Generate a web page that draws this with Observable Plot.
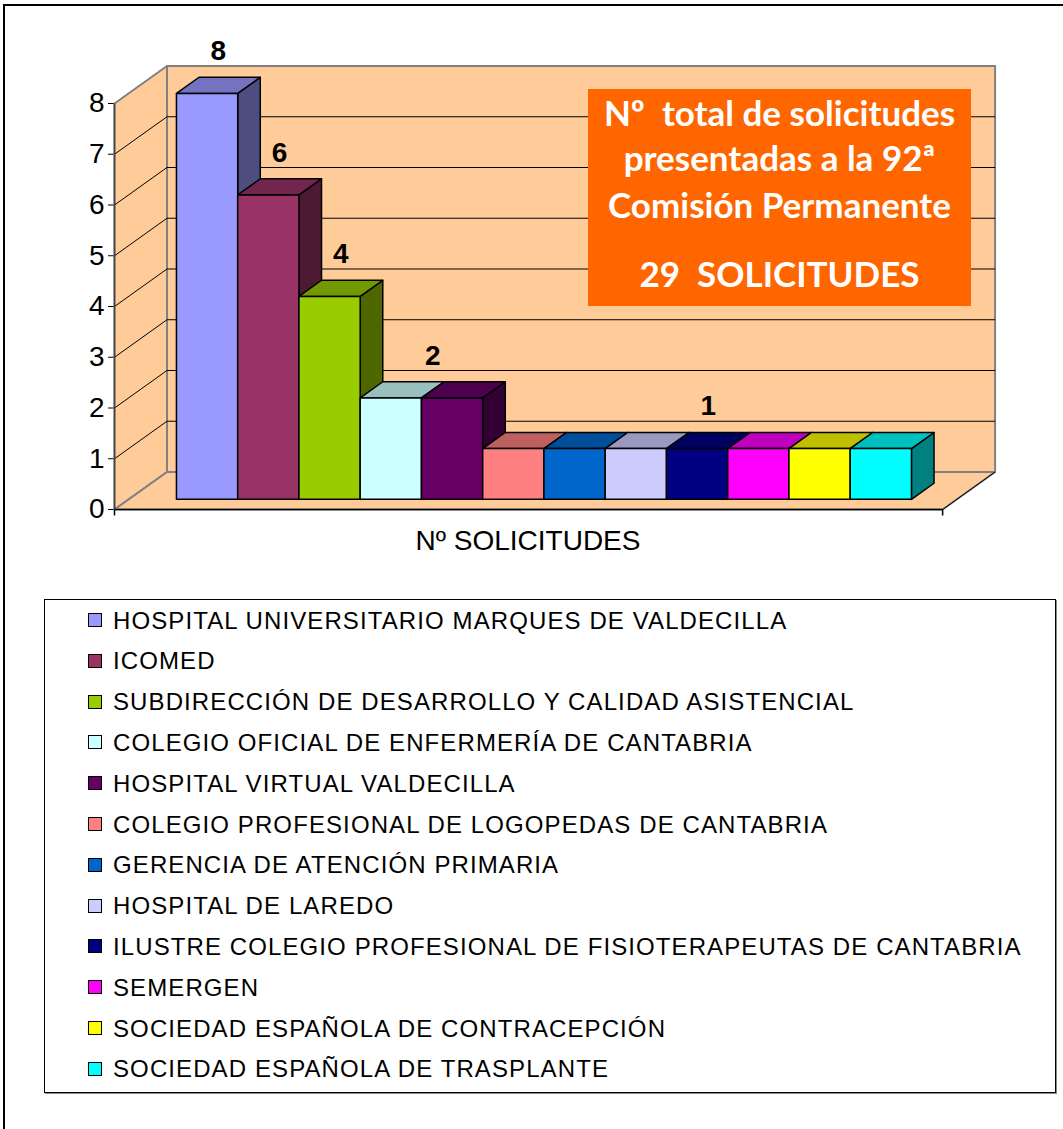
<!DOCTYPE html>
<html><head><meta charset="utf-8">
<script src="https://cdn.jsdelivr.net/npm/d3@7"></script>
<script src="https://cdn.jsdelivr.net/npm/@observablehq/plot@0.6"></script>
<style>
body{margin:0;background:#fff;font-family:"Liberation Sans",Arial,sans-serif;}
#page{position:relative;width:1063px;height:1129px;overflow:hidden;background:#fff;}
#frame{position:absolute;left:3px;top:4px;width:1080px;height:1150px;border:2px solid #000;box-sizing:border-box;}
#chart{position:absolute;left:0;top:0;}
#xlabel{position:absolute;left:0;width:1056px;top:527px;text-align:center;font-size:28px;line-height:28px;color:#000;}
#box{position:absolute;left:588px;top:89px;width:383px;height:217px;background:#FF6600;}
.bl{position:absolute;left:0;width:100%;text-align:center;color:#fff;font-family:Lato,"Open Sans",sans-serif;font-weight:700;font-size:35px;line-height:35px;white-space:pre;}
#legend{position:absolute;left:44px;top:599px;width:1012px;height:494px;border:1px solid #000;box-sizing:border-box;box-shadow:1px 1px 0 #888;}
.sw{position:absolute;left:43px;width:14px;height:14px;border:1px solid #000;box-sizing:border-box;}
.lt{position:absolute;left:68px;font-size:24px;line-height:24px;letter-spacing:1.1px;white-space:nowrap;color:#000;}
</style>
</head><body>
<div id="page">
  <div id="frame"></div>
  <div id="chart"></div>
  <div id="xlabel"></div>
  <div id="box"></div>
  <div id="legend"></div>
</div>
<script>
// ---- data ----
const series = [
  "HOSPITAL UNIVERSITARIO MARQUES DE VALDECILLA",
  "ICOMED",
  "SUBDIRECCIÓN DE DESARROLLO Y CALIDAD ASISTENCIAL",
  "COLEGIO OFICIAL DE ENFERMERÍA DE CANTABRIA",
  "HOSPITAL VIRTUAL VALDECILLA",
  "COLEGIO PROFESIONAL DE LOGOPEDAS DE CANTABRIA",
  "GERENCIA DE ATENCIÓN PRIMARIA",
  "HOSPITAL DE LAREDO",
  "ILUSTRE COLEGIO PROFESIONAL DE FISIOTERAPEUTAS DE CANTABRIA",
  "SEMERGEN",
  "SOCIEDAD ESPAÑOLA DE CONTRACEPCIÓN",
  "SOCIEDAD ESPAÑOLA DE TRASPLANTE"
];
const values = [8, 6, 4, 2, 2, 1, 1, 1, 1, 1, 1, 1];
const colors = ["#9999FF","#993366","#99CC00","#CCFFFF","#660066","#FF8080",
                "#0066CC","#CCCCFF","#000080","#FF00FF","#FFFF00","#00FFFF"];
const yTicks = [0, 1, 2, 3, 4, 5, 6, 7, 8];
const categoryLabel = "Nº SOLICITUDES";
const boxLines = ["Nº  total de solicitudes", "presentadas a la 92ª", "Comisión Permanente", "29  SOLICITUDES"];

// ---- 3D projection (style constants) ----
const DX = 0.857, DY = 0.739;       // full wall depth, in scale units
const GAP_L = 0.78, GAP_R = 0.74;   // floor margin around bars
const D0 = 0.27, D1 = 0.70;         // bar depth range
const YMAX = d3.max(yTicks);
const W = series.length + GAP_L + GAP_R;
const P = (x, v, d) => ({x: x + d * DX, y: v + d * DY});
const PEACH = "#FFCC99";

function shade(c, k) {
  const r = d3.rgb(c);
  return d3.rgb(r.r * k, r.g * k, r.b * k).formatHex();
}

// walls
const walls = [];
[
  [P(0,0,0), P(0,YMAX,0), P(0,YMAX,1), P(0,0,1)],
  [P(0,0,1), P(0,YMAX,1), P(W,YMAX,1), P(W,0,1)],
  [P(0,0,0), P(W,0,0), P(W,0,1), P(0,0,1)]
].forEach((poly, id) => poly.forEach(p => walls.push({...p, id})));

const grid = yTicks.filter(v => v > 0 && v < YMAX);

// bars
const sides = [], tops = [], fronts = [];
values.forEach((v, i) => {
  const xl = GAP_L + i, xr = xl + 1, c = colors[i];
  [P(xl,0,D0), P(xl,v,D0), P(xr,v,D0), P(xr,0,D0)].forEach(p => fronts.push({...p, id: i, fill: c}));
  [P(xl,v,D0), P(xl,v,D1), P(xr,v,D1), P(xr,v,D0)].forEach(p => tops.push({...p, id: i, fill: shade(c, 0.75)}));
  [P(xr,0,D0), P(xr,v,D0), P(xr,v,D1), P(xr,0,D1)].forEach(p => sides.push({...p, id: i, fill: shade(c, 0.5)}));
});

// one data label per distinct value, at the mean position of the bars having it
const labels = d3.groups(values.map((v, i) => ({v, i})), d => d.v)
  .map(([v, arr]) => ({v, i: d3.mean(arr, d => d.i)}));

const tickShape = {draw(ctx) { ctx.moveTo(0, 0); ctx.lineTo(0, 6); }};

const polyOpts = (extra) => ({x: "x", y: "y", z: "id", curve: "linear-closed", ...extra});

const chart = Plot.plot({
  width: 1063, height: 600,
  marginLeft: 114, marginRight: 68.4, marginTop: 65.5, marginBottom: 91,
  style: {fontFamily: "Liberation Sans, Arial, sans-serif", fontSize: "28px", color: "#000", background: "transparent"},
  x: {domain: [0, W + DX], axis: null},
  y: {domain: [0, YMAX + DY], ticks: YMAX, tickSize: 6, tickPadding: 4, label: null, tickFormat: d => d},
  color: {type: "identity"},
  marks: [
    Plot.line(walls, polyOpts({fill: PEACH, stroke: "#808080", strokeWidth: 2})),
    Plot.link(grid, {x1: 0, y1: d => d, x2: DX, y2: d => d + DY, stroke: "#000", strokeWidth: 1}),
    Plot.link(grid, {x1: DX, y1: d => d + DY, x2: W + DX, y2: d => d + DY, stroke: "#000", strokeWidth: 1}),
    Plot.link([0], {x1: 0, y1: 0, x2: 0, y2: YMAX, stroke: "#404040", strokeWidth: 1.5}),
    Plot.link([0], {x1: 0, y1: 0, x2: W, y2: 0, stroke: "#000", strokeWidth: 1.5}),
    Plot.link([0], {x1: W, y1: 0, x2: W + DX, y2: DY, stroke: "#000", strokeWidth: 1}),
    Plot.dot([0, W], {x: d => d, y: 0, symbol: tickShape, stroke: "#000", fill: "none", strokeWidth: 1.5}),
    Plot.line(sides, polyOpts({fill: "fill", stroke: "#000", strokeWidth: 1.5, strokeLinejoin: "round"})),
    Plot.line(tops, polyOpts({fill: "fill", stroke: "#000", strokeWidth: 1.5, strokeLinejoin: "round"})),
    Plot.line(fronts, polyOpts({fill: "fill", stroke: "#000", strokeWidth: 1.5, strokeLinejoin: "round"})),
    Plot.text(labels, {
      x: d => GAP_L + d.i + 0.5 + ((D0 + D1) / 2) * DX,
      y: d => d.v + D1 * DY,
      dy: -26, text: d => String(d.v),
      fontSize: 28, fontWeight: "bold", fill: "#000"
    })
  ]
});
document.getElementById("chart").appendChild(chart);

document.getElementById("xlabel").textContent = categoryLabel;

// text box
const box = document.getElementById("box");
const baselines = [36.5, 82, 129, 198];
boxLines.forEach((t, k) => {
  const d = document.createElement("div");
  d.className = "bl";
  d.textContent = t;
  d.style.top = (baselines[k] - 31) + "px";
  box.appendChild(d);
});

// legend
const legend = document.getElementById("legend");
series.forEach((s, i) => {
  const cy = 20 + i * 40.8;
  const sw = document.createElement("div");
  sw.className = "sw";
  sw.style.top = (cy - 7) + "px";
  sw.style.background = colors[i];
  legend.appendChild(sw);
  const t = document.createElement("div");
  t.className = "lt";
  t.style.top = (cy - 11.5) + "px";
  t.textContent = s;
  legend.appendChild(t);
});
</script>
</body></html>
